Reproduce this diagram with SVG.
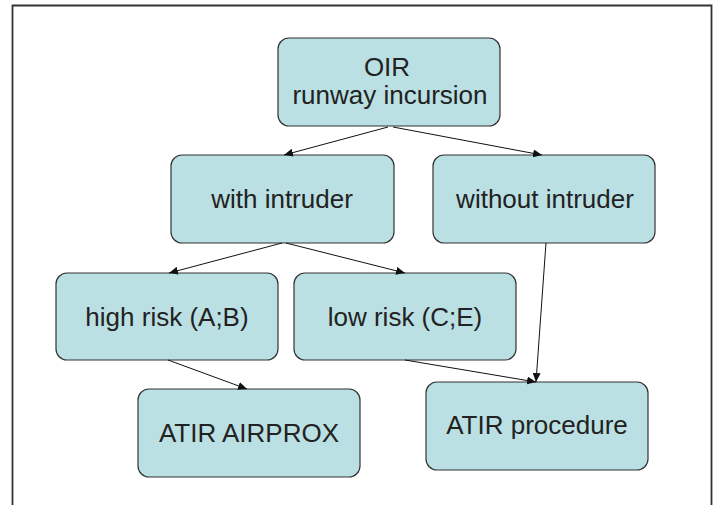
<svg xmlns="http://www.w3.org/2000/svg" width="718" height="505" viewBox="0 0 718 505">
<style>
.box{fill:#BBE0E3;stroke:#333;stroke-width:1.2}
.lbl{font-family:"Liberation Sans",Arial,sans-serif;font-size:26px;fill:#222;text-anchor:middle}
.con{stroke:#111;stroke-width:1;fill:none;marker-end:url(#ah)}
</style>
<defs>
<marker id="ah" markerUnits="userSpaceOnUse" markerWidth="10" markerHeight="8" refX="9" refY="4" orient="auto">
<path d="M0,0 L9,4 L0,8 Z" fill="#111"/>
</marker>
</defs>
<rect width="718" height="505" fill="#fff"/>
<path d="M12.5,505 V5.5 H711.5 V505" fill="none" stroke="#333" stroke-width="1.8"/>
<g id="n-oir">
<rect class="box" x="278" y="38" width="222" height="88" rx="11"/>
<text class="lbl" x="387" y="76">OIR</text>
<text class="lbl" x="390" y="104">runway incursion</text>
</g>
<g id="n-with">
<rect class="box" x="171" y="155" width="223" height="88" rx="11"/>
<text class="lbl" x="282" y="208">with intruder</text>
</g>
<g id="n-without">
<rect class="box" x="433" y="155" width="222" height="88" rx="11"/>
<text class="lbl" x="545" y="208">without intruder</text>
</g>
<g id="n-high">
<rect class="box" x="56" y="273" width="222" height="87" rx="11"/>
<text class="lbl" x="167" y="326">high risk (A;B)</text>
</g>
<g id="n-low">
<rect class="box" x="294" y="273" width="222" height="87" rx="11"/>
<text class="lbl" x="405" y="326">low risk (C;E)</text>
</g>
<g id="n-airprox">
<rect class="box" x="138" y="389" width="222" height="88" rx="11"/>
<text class="lbl" x="249" y="442">ATIR AIRPROX</text>
</g>
<g id="n-procedure">
<rect class="box" x="426" y="382" width="222" height="88" rx="11"/>
<text class="lbl" x="537" y="434">ATIR procedure</text>
</g>
<g id="connectors">
<line class="con" x1="388" y1="127" x2="284" y2="155"/>
<line class="con" x1="393" y1="127" x2="542" y2="155"/>
<line class="con" x1="282" y1="243" x2="169" y2="273"/>
<line class="con" x1="286" y1="243" x2="405" y2="273"/>
<line class="con" x1="546" y1="243" x2="536" y2="382"/>
<line class="con" x1="405" y1="360" x2="536" y2="382"/>
<line class="con" x1="168" y1="360" x2="247" y2="389"/>
</g>
</svg>
